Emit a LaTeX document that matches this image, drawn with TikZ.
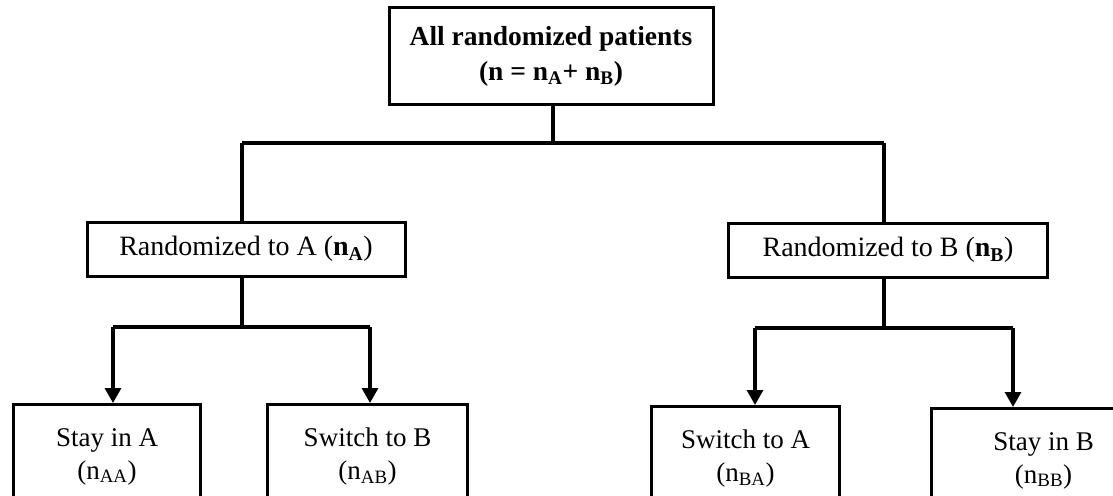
\documentclass[tikz,border=0pt]{standalone}
\usepackage{fontspec}
\setmainfont{Liberation Serif}
\usetikzlibrary{arrows.meta}
\tikzset{
  box/.style={draw, line width=3pt, inner sep=0pt, align=center},
  conn/.style={line width=3.2pt},
  arr/.style={line width=3.2pt, -{Triangle[length=15pt,width=16pt]}},
  bigtext/.style={font=\fontsize{27.5}{35}\selectfont},
  midtext/.style={font=\fontsize{28}{34}\selectfont},
  lowtext/.style={font=\fontsize{27}{33}\selectfont},
}
\begin{document}
\begin{tikzpicture}[x=1pt,y=-1pt]
\useasboundingbox (0,0) rectangle (1113,495);
\clip (0,0) rectangle (1113,495);
% boxes
\node[box, bigtext, minimum width=324pt, minimum height=96pt] (all) at (551,56)
  {\textbf{All randomized patients}\\\textbf{(n = n\textsubscript{A}+ n\textsubscript{B})}};
\node[box, midtext, minimum width=318pt, minimum height=54pt] (ra) at (246,249)
  {Randomized to A (\textbf{n\textsubscript{A}})};
\node[box, midtext, minimum width=319pt, minimum height=54pt] (rb) at (888,250)
  {Randomized to B (\textbf{n\textsubscript{B}})};
\node[box, lowtext, minimum width=187pt, minimum height=104pt, anchor=north west] (aa) at (12,403)
  {Stay in A\\(n\textsubscript{AA})};
\node[box, lowtext, minimum width=200pt, minimum height=104pt, anchor=north west] (ab) at (266,403)
  {Switch to B\\(n\textsubscript{AB})};
\node[box, lowtext, minimum width=188pt, minimum height=104pt, anchor=north west] (ba) at (650,405)
  {Switch to A\\(n\textsubscript{BA})};
\node[box, lowtext, minimum width=224pt, minimum height=104pt, anchor=north west] (bb) at (930,407)
  {Stay in B\\(n\textsubscript{BB})};
% connectors
\coordinate (j0) at (553,143);
\coordinate (jA) at (242,143);
\coordinate (jB) at (884,143);
\draw[conn] (all.south -| j0) -- (j0);
\draw[conn] (jA) -- (jB);
\draw[conn] (jA) -- (ra.north -| jA);
\draw[conn] (jB) -- (rb.north -| jB);
\coordinate (kA) at (242,327);
\coordinate (kA1) at (113,327);
\coordinate (kA2) at (370,327);
\draw[conn] (ra.south -| kA) -- (kA);
\draw[conn] (kA1) -- (kA2);
\draw[arr] (kA1) -- (aa.north -| kA1);
\draw[arr] (kA2) -- (ab.north -| kA2);
\coordinate (kB) at (884,328);
\coordinate (kB1) at (755,328);
\coordinate (kB2) at (1013,328);
\draw[conn] (rb.south -| kB) -- (kB);
\draw[conn] (kB1) -- (kB2);
\draw[arr] (kB1) -- (ba.north -| kB1);
\draw[arr] (kB2) -- (bb.north -| kB2);
\end{tikzpicture}
\end{document}
